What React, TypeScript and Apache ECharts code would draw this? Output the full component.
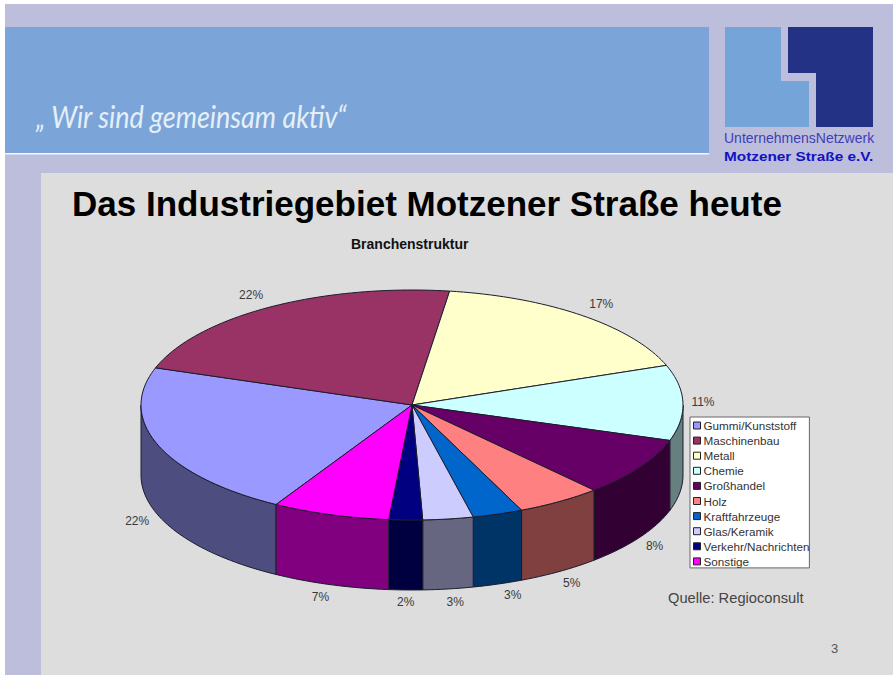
import React, { useEffect, useRef } from "react";
import * as echarts from "echarts";

const categories = [
  "Gummi/Kunststoff", "Maschinenbau", "Metall", "Chemie", "Großhandel",
  "Holz", "Kraftfahrzeuge", "Glas/Keramik", "Verkehr/Nachrichten", "Sonstige",
];
const shares = [21.9, 22.0, 17.2, 10.6, 8.3, 5.1, 3.0, 3.0, 2.0, 7.0];
const colors = [
  "#9999FF", "#993366", "#FFFFCC", "#CCFFFF", "#660066",
  "#FF8080", "#0066CC", "#CCCCFF", "#000080", "#FF00FF",
];
const slideTitle = "Das Industriegebiet Motzener Straße heute";
const chartTitle = "Branchenstruktur";
const motto = "„ Wir sind gemeinsam aktiv“";
const source = "Quelle: Regioconsult";
const pageNumber = "3";

const SANS = "'Liberation Sans', Arial, sans-serif";
const total = shares.reduce((a, b) => a + b, 0);
const CX = 412, CY = 405, RX = 271, RY = 115, DEPTH = 70, START = 210.1;

function darken(hex: string) {
  const n = parseInt(hex.slice(1), 16);
  const h = (v: number) => Math.round(v / 2).toString(16).padStart(2, "0");
  return "#" + h((n >> 16) & 255) + h((n >> 8) & 255) + h(n & 255);
}
function pt(deg: number, dy = 0) {
  const r = (deg * Math.PI) / 180;
  return [CX + RX * Math.sin(r), CY - RY * Math.cos(r) + dy];
}
function arc(a0: number, a1: number, dy = 0) {
  const n = Math.max(1, Math.ceil((a1 - a0) / 1.5));
  const out: number[][] = [];
  for (let i = 0; i <= n; i++) out.push(pt(a0 + ((a1 - a0) * i) / n, dy));
  return out;
}

const LABEL_NUDGE = [
  [-21, 6], [-19, -12], [19, -12], [20, -1], [15, 9],
  [12, 12], [15, 11], [7, 13], [0, 12], [-10, 12],
];

function sliceRenderer(index: number) {
  return (_params: any, api: any) => {
    const value = api.value(0);
    const before = shares.slice(0, index).reduce((a, b) => a + b, 0);
    const a0 = START + (before / total) * 360;
    const a1 = a0 + (value / total) * 360;
    const children: any[] = [];
    const line = { stroke: "#1c1c2c", lineWidth: 1 };
    for (const [lo, hi] of [[90, 270], [450, 630]]) {
      const s0 = Math.max(a0, lo), s1 = Math.min(a1, hi);
      if (s1 > s0) {
        children.push({
          type: "polygon",
          shape: { points: [...arc(s0, s1), ...arc(s0, s1, DEPTH).reverse()] },
          style: { fill: darken(colors[index]), ...line },
        });
      }
    }
    children.push({
      type: "polygon",
      shape: { points: [[CX, CY], ...arc(a0, a1)] },
      style: { fill: colors[index], ...line },
    });
    const mid = (a0 + a1) / 2;
    const midNorm = mid % 360;
    const [lx, ly] = pt(mid, midNorm > 90 && midNorm < 270 ? DEPTH : 0);
    children.push({
      type: "text",
      style: {
        text: Math.round((value / total) * 100) + "%",
        x: lx + LABEL_NUDGE[index][0],
        y: ly + LABEL_NUDGE[index][1],
        fill: "#3a3a3a",
        fontSize: 12,
        fontFamily: SANS,
        align: "center",
        verticalAlign: "middle",
      },
    });
    return { type: "group", children };
  };
}

const rect = (x: number, y: number, width: number, height: number, fill: string) => ({
  type: "rect", shape: { x, y, width, height }, style: { fill }, silent: true,
});
const label = (text: string, x: number, y: number, fontSize: number, fill: string, extra: any = {}, scaleX = 1) => ({
  type: "text", x, y, scaleX, silent: true,
  style: { text, fontSize, fill, fontFamily: SANS, verticalAlign: "middle", ...extra },
});

export default function App() {
  const ref = useRef<HTMLDivElement>(null);
  useEffect(() => {
    const chart = echarts.init(ref.current!, null, { renderer: "svg" });
    chart.setOption({
      animation: false,
      backgroundColor: "#ffffff",
      title: [
        {
          text: slideTitle, left: 72, top: 186,
          textStyle: { fontFamily: SANS, fontSize: 35, fontWeight: "bold", color: "#000000" },
          padding: 0,
        },
        {
          text: chartTitle, left: 351, top: 237,
          textStyle: { fontFamily: SANS, fontSize: 14, fontWeight: "bold", color: "#111111" },
          padding: 0,
        },
      ],
      legend: {
        orient: "vertical",
        left: 690, top: 417,
        padding: [2, 0, 0, 3],
        itemWidth: 7, itemHeight: 7, itemGap: 2.1,
        icon: "rect",
        backgroundColor: "#ffffff",
        borderColor: "#666666",
        borderWidth: 1,
        selectedMode: false,
        data: categories,
        textStyle: { fontFamily: SANS, fontSize: 11.7, color: "#333333", padding: [0, 0, 0, -2], lineHeight: 13 },
        itemStyle: { borderColor: "#222222", borderWidth: 1 },
      },
      graphic: [
        rect(5, 4, 888, 671, "#BCBEDC"),
        rect(5, 27, 704, 126, "#7BA5D8"),
        rect(5, 153, 704, 1.5, "#F4F6FB"),
        rect(41, 173, 852, 502, "#DDDDDD"),
        {
          type: "polygon", silent: true,
          shape: { points: [[725, 27], [781, 27], [781, 81], [809, 81], [809, 127], [725, 127]] },
          style: { fill: "#74A4D8" },
        },
        {
          type: "polygon", silent: true,
          shape: { points: [[788, 27], [873, 27], [873, 127], [816, 127], [816, 73], [788, 73]] },
          style: { fill: "#243285" },
        },
        {
          type: "text", x: 36, y: 116, scaleX: 0.9, silent: true,
          style: {
            text: motto, fontFamily: "Lato, sans-serif", fontStyle: "italic",
            fontSize: 30, fill: "#E6EFF8", verticalAlign: "middle",
          },
        },
        label("UnternehmensNetzwerk", 724, 138, 14, "#3F3FB5"),
        label("Motzener Straße e.V.", 724, 156, 13, "#1212C4", { fontWeight: "bold" }, 1.18),
        label(source, 668, 598, 14.7, "#444444"),
        label(pageNumber, 831, 648, 13, "#555555"),
      ],
      series: categories.map((name, i) => ({
        type: "custom",
        name,
        coordinateSystem: "none",
        silent: true,
        itemStyle: { color: colors[i] },
        data: [[shares[i]]],
        renderItem: sliceRenderer(i),
      })),
    });
    return () => chart.dispose();
  }, []);
  return <div ref={ref} style={{ position: "absolute", left: 0, top: 0, width: 893, height: 675 }} />;
}
